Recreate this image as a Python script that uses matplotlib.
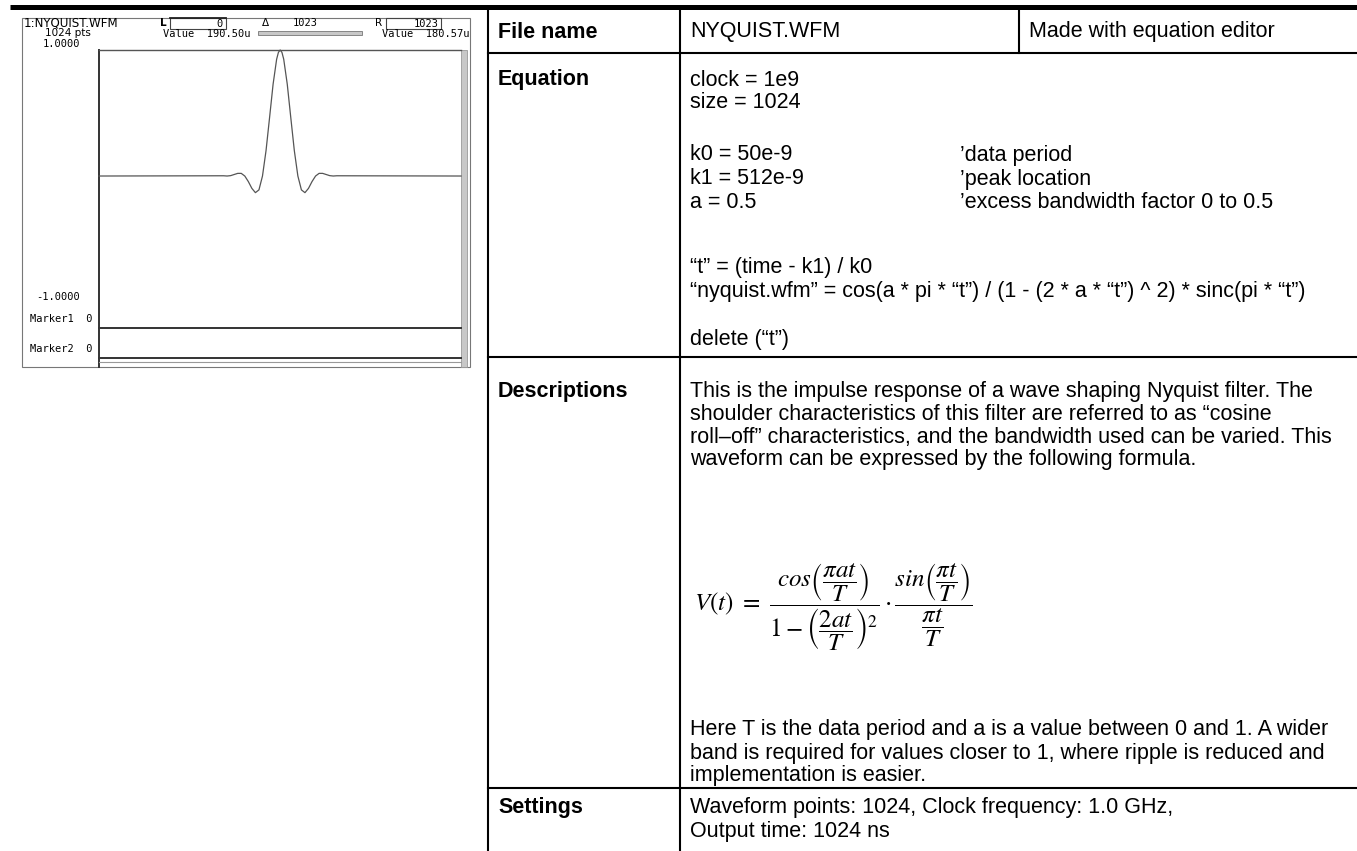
import matplotlib
matplotlib.use("Agg")
import matplotlib.pyplot as plt
from matplotlib.patches import Rectangle

W, H = 1357, 851

# waveform samples (sample index, value)
sample_index = [0, 352, 362, 372, 382, 392, 402, 412, 422, 432, 442, 452, 462,
                472, 482, 492, 502, 507, 512, 517, 522, 532, 542, 552, 562,
                572, 582, 592, 602, 612, 622, 632, 642, 652, 662, 672, 1023]
sample_value = [0.0, 0.002, 0.0, 0.003, 0.012, 0.021, 0.021, 0.0, -0.044,
                -0.098, -0.132, -0.110, 0.0, 0.201, 0.463, 0.729, 0.927, 0.981,
                1.0, 0.981, 0.927, 0.729, 0.463, 0.201, 0.0, -0.110, -0.132,
                -0.098, -0.044, 0.0, 0.021, 0.021, 0.012, 0.003, 0.0, 0.002, 0.0]

# screen header readouts
wfm_name = "1:NYQUIST.WFM"
wfm_points = "1024 pts"
cursor_left = "0"
cursor_delta = "1023"
cursor_right = "1023"
value_left = "190.50u"
value_right = "180.57u"
scale_top = "1.0000"
scale_bottom = "-1.0000"
marker_labels = ["Marker1  0", "Marker2  0"]

# table content
row_titles = ["File name", "Equation", "Descriptions", "Settings"]
file_name = "NYQUIST.WFM"
file_note = "Made with equation editor"
eq_lines = ["clock = 1e9", "size = 1024",
            "k0 = 50e-9", "k1 = 512e-9", "a = 0.5",
            "\u201ct\u201d = (time - k1) / k0",
            "\u201cnyquist.wfm\u201d = cos(a * pi * \u201ct\u201d) / (1 - (2 * a * \u201ct\u201d) ^ 2) * sinc(pi * \u201ct\u201d)",
            "delete (\u201ct\u201d)"]
eq_comments = ["\u2019data period", "\u2019peak location",
               "\u2019excess bandwidth factor 0 to 0.5"]
desc_lines = ["This is the impulse response of a wave shaping Nyquist filter. The",
              "shoulder characteristics of this filter are referred to as \u201ccosine",
              "roll\u2013off\u201d characteristics, and the bandwidth used can be varied. This",
              "waveform can be expressed by the following formula."]
desc_lines2 = ["Here T is the data period and a is a value between 0 and 1. A wider",
               "band is required for values closer to 1, where ripple is reduced and",
               "implementation is easier."]
settings_lines = ["Waveform points: 1024, Clock frequency: 1.0 GHz,",
                  "Output time: 1024 ns"]

plt.rcParams["mathtext.fontset"] = "stix"
fig = plt.figure(figsize=(W / 100, H / 100), dpi=100)
ax = fig.add_axes([0, 0, 1, 1])
ax.set_xlim(0, W)
ax.set_ylim(H, 0)
ax.axis("off")

tfont = ["Liberation Sans", "DejaVu Sans"]
fs = 15.5
k = "black"

# top rule
ax.plot([10, W], [7, 7], color=k, lw=3.6, solid_capstyle="butt")

# ---- screen capture on the left ----
g = "#777777"
ax.add_patch(Rectangle((22, 18), 448, 349, fill=False, ec=g, lw=0.8))
ax.plot([99, 99], [50, 367], color="#333333", lw=1.4)
ax.plot([99, 461], [50, 50], color="#555555", lw=1.0)
ax.plot([99, 461], [328, 328], color="#333333", lw=1.4)
ax.plot([99, 461], [358, 358], color="#333333", lw=1.4)
ax.plot([99, 461], [362, 362], color="#999999", lw=0.8)
ax.add_patch(Rectangle((461, 50), 6, 317, fc="#c8c8c8", ec="#999999", lw=0.6))

mono = "DejaVu Sans Mono"
sf = 7.5
ax.text(24, 23, wfm_name, fontsize=8.6, family="DejaVu Sans", va="center")
ax.text(45, 33, wfm_points, fontsize=sf, family="DejaVu Sans", va="center")
ax.text(160, 23, "L", fontsize=sf, family="DejaVu Sans", weight="bold", va="center")
ax.add_patch(Rectangle((170, 18), 56, 11, fill=False, ec="#444444", lw=0.8))
ax.plot([170, 226], [18, 18], color="#222222", lw=1.3)
ax.text(223, 24, cursor_left, fontsize=sf, family=mono, ha="right", va="center")
ax.text(262, 23, "\u0394", fontsize=sf, family="DejaVu Sans", va="center")
ax.text(293, 23, cursor_delta, fontsize=sf, family=mono, va="center")
ax.text(375, 23, "R", fontsize=sf, family="DejaVu Sans", va="center")
ax.add_patch(Rectangle((386, 18), 55, 11, fill=False, ec="#444444", lw=0.8))
ax.text(439, 24, cursor_right, fontsize=sf, family=mono, ha="right", va="center")
ax.text(163, 34, "Value  " + value_left, fontsize=sf, family=mono, va="center")
ax.add_patch(Rectangle((258, 31), 104, 4, fc="#c8c8c8", ec="#777777", lw=0.6))
ax.text(469, 34, "Value  " + value_right, fontsize=sf, family=mono, ha="right", va="center")
ax.text(80, 44, scale_top, fontsize=sf, family=mono, ha="right", va="center")
ax.text(80, 297, scale_bottom, fontsize=sf, family=mono, ha="right", va="center")
ax.text(93, 319, marker_labels[0], fontsize=sf, family=mono, ha="right", va="center")
ax.text(93, 349, marker_labels[1], fontsize=sf, family=mono, ha="right", va="center")

# waveform trace
wax = fig.add_axes([99 / W, 1 - 328 / H, 362 / W, 278 / H])
wax.plot(sample_index, sample_value, color="#555555", lw=0.9, clip_on=False)
wax.set_xlim(0, 1023)
wax.set_ylim(-1.206, 1.0)
wax.axis("off")

# ---- table ----
xl, xc, xr = 488, 680, 1019
rows_y = [53, 357, 788]
ax.plot([xl, xl], [9, H], color=k, lw=1.5)
ax.plot([xc, xc], [9, H], color=k, lw=1.5)
ax.plot([xr, xr], [9, rows_y[0]], color=k, lw=1.5)
for y in rows_y:
    ax.plot([xl, W], [y, y], color=k, lw=1.5)

tx = 690
title_y = [32, 80, 391, 808]
for t, y in zip(row_titles, title_y):
    ax.text(498, y, t, fontsize=fs, family=tfont, weight="bold", va="center")

ax.text(tx, 32, file_name, fontsize=fs, family=tfont, va="center")
ax.text(1029, 32, file_note, fontsize=fs, family=tfont, va="center")

eq_y = [80, 103, 155, 179, 203, 268, 292, 340]
for line, y in zip(eq_lines, eq_y):
    ax.text(tx, y, line, fontsize=fs, family=tfont, va="center")
for c, y in zip(eq_comments, eq_y[2:5]):
    ax.text(960, y, c, fontsize=fs, family=tfont, va="center")

dy = 23
for i, line in enumerate(desc_lines):
    ax.text(tx, 391 + i * dy, line, fontsize=fs, family=tfont, va="center")

formula = (r"$V(t)\ =\ \dfrac{cos\left(\dfrac{\pi a t}{T}\right)}"
           r"{1-\left(\dfrac{2at}{T}\right)^2}\cdot"
           r"\dfrac{sin\left(\dfrac{\pi t}{T}\right)}{\dfrac{\pi t}{T}}$")
ax.text(tx + 4, 607, formula, fontsize=18, va="center")

for i, line in enumerate(desc_lines2):
    ax.text(tx, 730 + i * dy, line, fontsize=fs, family=tfont, va="center")
for i, line in enumerate(settings_lines):
    ax.text(tx, 808 + i * dy, line, fontsize=fs, family=tfont, va="center")

fig.savefig("out.png", dpi=100)
